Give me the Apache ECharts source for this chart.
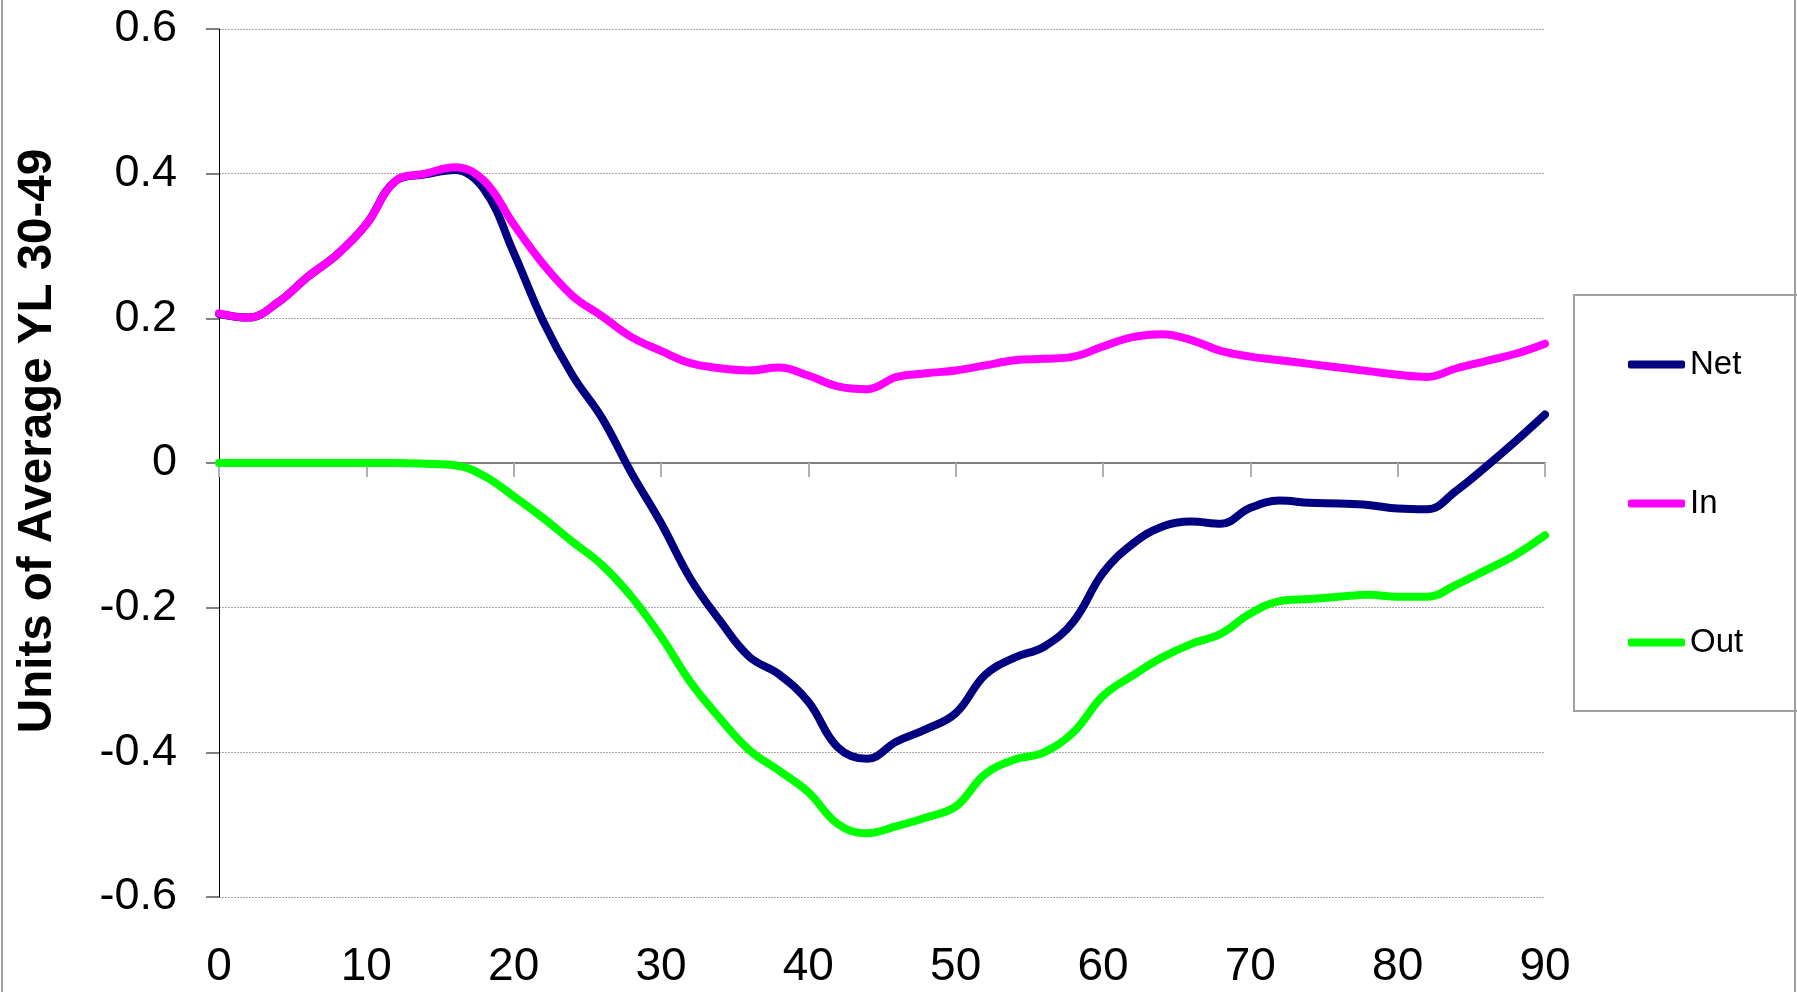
<!DOCTYPE html>
<html>
<head>
<meta charset="utf-8">
<script src="https://cdn.jsdelivr.net/npm/echarts@6/dist/echarts.min.js"></script>
<style>
  html, body { margin: 0; padding: 0; background: #fff; }
  #chart { width: 1797px; height: 992px; }
</style>
</head>
<body>
<div id="chart"></div>
<script>
// ages (years), every 2 years
const ages = [0, 2, 4, 6, 8, 10, 12, 14, 16, 18, 20, 22, 24, 26, 28, 30, 32, 34, 36, 38, 40, 42, 44,
  46, 48, 50, 52, 54, 56, 58, 60, 62, 64, 66, 68, 70, 72, 74, 76, 78, 80, 82, 84, 86, 88, 90]

const netValues = [0.206, 0.201, 0.222, 0.257, 0.288, 0.330, 0.390, 0.399, 0.405, 0.378, 0.291, 0.196,
  0.121, 0.062, -0.014, -0.083, -0.160, -0.218, -0.268, -0.292, -0.330, -0.393, -0.409, -0.385, -0.368,
  -0.346, -0.293, -0.269, -0.254, -0.219, -0.152, -0.112, -0.088, -0.081, -0.084, -0.062, -0.052,
  -0.055, -0.056, -0.058, -0.063, -0.064, -0.038, -0.005, 0.030, 0.067]

const inValues = [0.207, 0.201, 0.222, 0.257, 0.288, 0.330, 0.390, 0.400, 0.409, 0.390, 0.330, 0.275,
  0.231, 0.203, 0.174, 0.155, 0.138, 0.131, 0.128, 0.132, 0.121, 0.106, 0.102, 0.119, 0.124, 0.128,
  0.135, 0.142, 0.144, 0.147, 0.161, 0.174, 0.178, 0.170, 0.155, 0.147, 0.142, 0.137, 0.132, 0.127,
  0.122, 0.119, 0.131, 0.141, 0.151, 0.165]

const outValues = [0, 0, 0, 0, 0, 0, 0, -0.001, -0.003, -0.018, -0.046, -0.076, -0.109, -0.141, -0.185,
  -0.240, -0.303, -0.353, -0.397, -0.425, -0.455, -0.499, -0.512, -0.502, -0.490, -0.475, -0.430,
  -0.410, -0.400, -0.372, -0.322, -0.294, -0.269, -0.250, -0.236, -0.208, -0.191, -0.188, -0.185,
  -0.182, -0.185, -0.185, -0.168, -0.148, -0.127, -0.100]

const xTicks = { min: 0, max: 90, interval: 10 }
const yTicks = { min: -0.6, max: 0.6, interval: 0.2 }

const FONT = 'Liberation Sans, Arial, sans-serif'

const chart = echarts.init(document.getElementById('chart'))

function pairs(values) {
  return ages.map((a, i) => [a, values[i]])
}

function lineSeries(name, color, values) {
  return {
    name,
    type: 'line',
    xAxisIndex: 0,
    data: pairs(values),
    smooth: 0.4,
    symbol: 'none',
    lineStyle: { color, width: 8, cap: 'round', join: 'round' },
    itemStyle: { color },
  }
}

chart.setOption({
  animation: false,
  backgroundColor: '#fff',
  grid: { left: 219, right: 252, top: 29, bottom: 95 },
  legend: {
    orient: 'vertical',
    left: 1574,
    top: 295,
    padding: [46, 150, 45, 54],
    itemGap: 92,
    icon: 'roundRect',
    itemWidth: 57,
    itemHeight: 8,
    borderColor: '#a0a0a0',
    borderWidth: 2,
    textStyle: { fontSize: 33, fontFamily: FONT, color: '#000', lineHeight: 47 },
    data: ['Net', 'In', 'Out'],
  },
  xAxis: [
    {
      type: 'value',
      ...xTicks,
      position: 'bottom',
      axisLine: { show: false, onZero: false },
      axisTick: { show: false },
      splitLine: { show: false },
      axisLabel: { fontSize: 46, fontFamily: FONT, color: '#000', margin: 47 },
    },
    {
      type: 'value',
      ...xTicks,
      position: 'bottom',
      axisLine: { show: true, onZero: true, lineStyle: { color: '#808080', width: 2 } },
      axisTick: { show: true, length: 14, lineStyle: { color: '#b0b0b0', width: 2 } },
      axisLabel: { show: false },
      splitLine: { show: false },
    },
  ],
  yAxis: {
    type: 'value',
    ...yTicks,
    name: 'Units of Average YL 30-49',
    nameLocation: 'middle',
    nameGap: 157,
    nameTextStyle: { fontSize: 47.5, fontWeight: 'bold', fontFamily: FONT, color: '#000', padding: [0, 0, 0, 44] },
    axisLine: { show: true, lineStyle: { color: '#000', width: 1 } },
    axisTick: { show: true, length: 13, lineStyle: { color: '#808080', width: 2 } },
    axisLabel: { fontSize: 45, fontFamily: FONT, color: '#000', margin: 42 },
    splitLine: { show: true, lineStyle: { color: '#a8a8a8', width: 1, type: [2, 1] } },
  },
  graphic: [
    { type: 'line', shape: { x1: 2, y1: 0, x2: 2, y2: 992 }, style: { stroke: '#a0a0a0', lineWidth: 2 } },
    { type: 'line', shape: { x1: 1795, y1: 0, x2: 1795, y2: 992 }, style: { stroke: '#a0a0a0', lineWidth: 2 } },
  ],
  series: [
    lineSeries('Net', '#000080', netValues),
    lineSeries('In', '#ff00ff', inValues),
    lineSeries('Out', '#00ff00', outValues),
  ],
})
</script>
</body>
</html>
